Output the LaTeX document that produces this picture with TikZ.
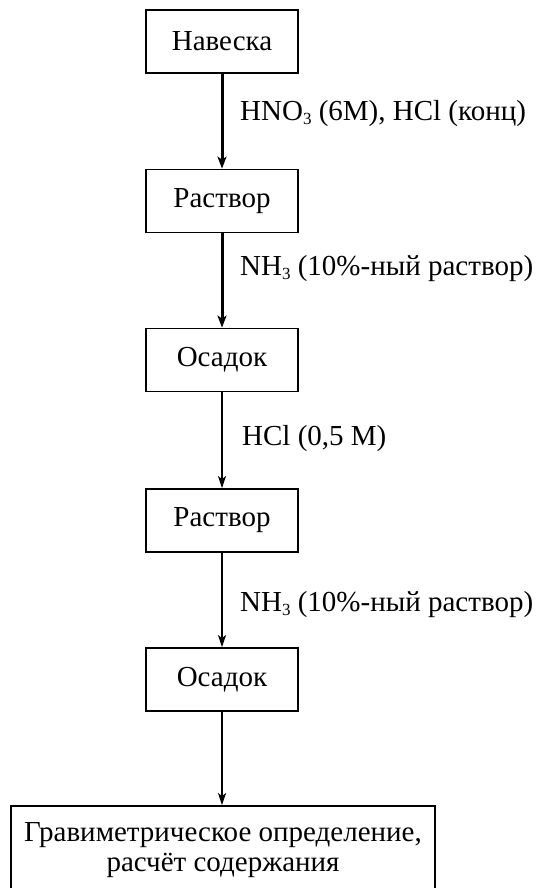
\documentclass[tikz,border=0pt]{standalone}
\usepackage{fontspec}
\setmainfont{Liberation Serif}
\usetikzlibrary{arrows.meta}

\newcommand{\lowix}[1]{\raisebox{-4pt}{\fontsize{17}{17}\selectfont #1}}

\begin{document}
\begin{tikzpicture}[%
        x = 1pt, y = -1pt,
        font = \fontsize{29}{30}\selectfont,
        stage/.style = {draw, line width=1.8pt, minimum width=152pt, minimum height=63pt, inner sep=2pt},
        flow/.style = {line width=3pt, -{Stealth[length=12pt,width=9pt,inset=3pt]}},
        flowthin/.style = {line width=1.8pt, -{Stealth[length=12pt,width=8pt,inset=3pt]}},
        reagent/.style = {anchor=west, inner sep=0pt}
    ]
      \useasboundingbox (0,0) rectangle (537,888);
      \node [stage] (s1) at (222,41.5) {Навеска};
      \node [stage] (s2) at (222,201) {Раствор};
      \node [stage] (s3) at (222,360) {Осадок};
      \node [stage] (s4) at (222,520.5) {Раствор};
      \node [stage] (s5) at (222,679.5) {Осадок};
      \node [stage, minimum width=424pt, minimum height=88pt, align=center] (s6) at (223,850)
        {Гравиметрическое определение,\\расчёт содержания};
      \draw [flow] (s1) -- (s2);
      \draw [flow] (s2) -- (s3);
      \draw [flowthin] (s3) -- (s4);
      \draw [flowthin] (s4) -- (s5);
      \draw [flowthin] (s5) -- (s6.north -| s5.south);
      \node [reagent] (r1) at (240,114) {HNO\lowix{3} (6M), HCl (конц)};
      \node [reagent] (r2) at (240,269) {NH\lowix{3} (10\%-ный раствор)};
      \node [reagent] (r3) at (242,439) {HCl (0,5 M)};
      \node [reagent] (r4) at (240,605) {NH\lowix{3} (10\%-ный раствор)};
    \end{tikzpicture}
\end{document}
